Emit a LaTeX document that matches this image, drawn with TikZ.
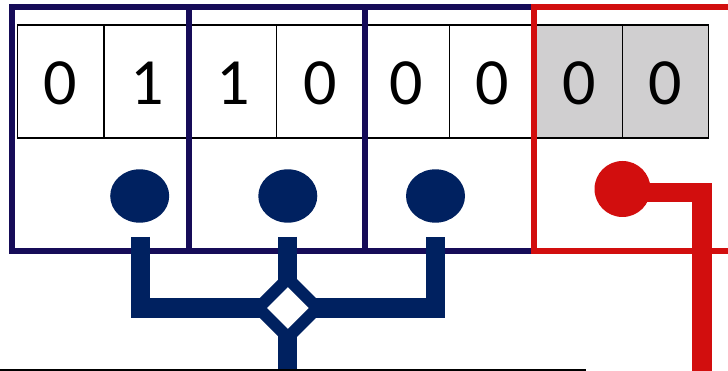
\documentclass[tikz,border=0pt]{standalone}
\usepackage{fontspec}
\setmainfont{Carlito}
\usetikzlibrary{shapes.geometric}
\definecolor{frameblue}{RGB}{22,12,88}
\definecolor{busblue}{RGB}{0,33,96}
\definecolor{busred}{RGB}{210,14,14}
\definecolor{cellgray}{RGB}{208,207,208}
\tikzset{
  cellbox/.style={draw=black, line width=1.3pt, minimum width=86.4pt, minimum height=113pt,
    inner sep=0pt, text height=46pt, text depth=0pt, font=\fontsize{66}{70}\selectfont},
  grayed/.style={fill=cellgray},
  group/.style={draw=frameblue, line width=5.6pt},
  redgroup/.style={draw=busred, line width=5.6pt},
  bluedot/.style={ellipse, fill=busblue, minimum width=59pt, minimum height=53.4pt, inner sep=0pt},
  reddot/.style={circle, fill=busred, minimum size=56pt, inner sep=0pt},
  bluebus/.style={draw=busblue, line width=19pt, line join=miter, line cap=butt},
  redbus/.style={draw=busred, line width=19.5pt, line join=miter, line cap=butt},
  junction/.style={diamond, aspect=1, draw=busblue, fill=white, line width=12pt,
    minimum size=64pt, inner sep=0pt},
  ground/.style={draw=black, line width=1.5pt}
}
\begin{document}
\begin{tikzpicture}[x=1pt, y=-1pt]
\clip (0,0) rectangle (728,371);
\fill[white] (0,0) rectangle (728,371);

% register cells
\node[cellbox] (c1) at (60.7,81.5) {0};
\node[cellbox] (c2) at (147.1,81.5) {1};
\node[cellbox] (c3) at (233.5,81.5) {1};
\node[cellbox] (c4) at (319.9,81.5) {0};
\node[cellbox] (c5) at (406.3,81.5) {0};
\node[cellbox] (c6) at (492.7,81.5) {0};
\node[cellbox, grayed] (c7) at (579.1,81.5) {0};
\node[cellbox, grayed] (c8) at (665.5,81.5) {0};

% group frames
\draw[group] (12,7) rectangle (189,251);
\draw[group] (189,7) rectangle (365,251);
\draw[group] (365,7) rectangle (534,251);
\draw[redgroup] (534,7) rectangle (760,251);

% output dots
\node[bluedot] (d1) at (139.7,196) {};
\node[bluedot] (d2) at (287.8,196) {};
\node[bluedot] (d3) at (435.5,196) {};
\node[reddot] (rd) at (622.5,189) {};

% blue bus with junction
\coordinate (s1) at (140,237);
\coordinate (s2) at (287.8,237);
\coordinate (s3) at (435.5,237);
\coordinate (jn) at (287.8,308);
\coordinate (sb) at (287.8,380);
\draw[bluebus] (s1) |- (jn) -| (s3);
\draw[bluebus] (s2) -- (jn) -- (sb);
\node[junction] (dm) at (jn) {};

% red line
\coordinate (rk) at (702,192.7);
\coordinate (rb) at (702,380);
\draw[redbus] (rd.center |- rk) -- (rk) -- (rb);

% base line
\coordinate (g0) at (-5,370);
\coordinate (g1) at (585.7,370);
\draw[ground] (g0) -- (g1);
\end{tikzpicture}
\end{document}
